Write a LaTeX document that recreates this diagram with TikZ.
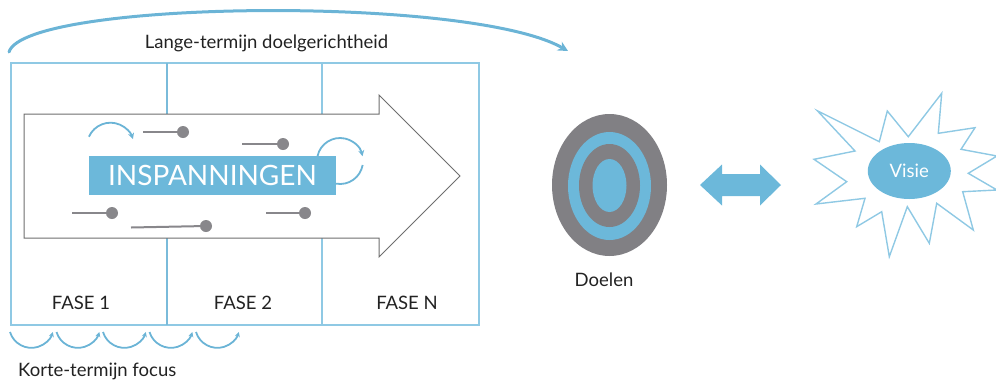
\documentclass[tikz,border=0pt]{standalone}
\usepackage{fontspec}
\setmainfont{Lato}
\usetikzlibrary{arrows.meta,shapes.geometric}
\definecolor{fillblue}{HTML}{6CB8DA}
\definecolor{lineblue}{HTML}{8FC9E4}
\definecolor{darkblue}{HTML}{6BB4D6}
\definecolor{targetgray}{HTML}{818084}
\definecolor{lolgray}{HTML}{88878B}
\definecolor{arrowgray}{HTML}{6E6E6E}
\definecolor{textcol}{HTML}{222222}
\begin{document}
\begin{tikzpicture}[x=1pt,y=-1pt,
  phasebox/.style={draw=lineblue,line width=1.3pt},
  bigarrow/.style={draw=arrowgray,line width=1pt,fill=white,line join=miter},
  loopline/.style={draw=darkblue,line width=1.8pt,-{Stealth[length=6pt,width=6pt]}},
  lolline/.style={draw=lolgray,line width=2pt},
  loldot/.style={circle,fill=lolgray,inner sep=0pt,minimum size=12pt},
  label/.style={text=textcol,font=\fontsize{18.5}{22}\selectfont,inner sep=0pt},
  starline/.style={draw=lineblue,line width=1.4pt,fill=white,line join=miter}
]
\useasboundingbox (0,0) rectangle (996,381);
% top long-term arc
\coordinate (arcstart) at (9,52);
\coordinate (arcend) at (568,51);
\draw[darkblue,line width=3pt,line cap=round,-{Stealth[length=10pt,width=10pt]}]
  (arcstart) .. controls (25,0) and (470,-5) .. (arcend);
\node[label] (lange) at (266.5,43) {Lange-termijn doelgerichtheid};
% phase box
\draw[phasebox] (11,63) rectangle (479,325);
\draw[phasebox,line width=1.8pt,draw=darkblue!90] (167,63) -- (167,325);
\draw[phasebox] (322,63) -- (322,325);
% big arrow
\draw[bigarrow] (24,114) -- (379,114) -- (379,95) -- (460,176) -- (379,257) -- (379,238) -- (24,238) -- cycle;
% INSPANNINGEN
\node[fill=fillblue,minimum width=247pt,minimum height=39pt,inner sep=0pt,
      text=white,font=\fontsize{28}{30}\selectfont] (insp) at (212.5,175.5) {INSPANNINGEN};
% loops
\draw[loopline] (110.5,146.3) ++(-156:23.6) arc[start angle=-156,end angle=-18,radius=23.6];
\draw[loopline] (340,161) ++(-167.5:23) arc[start angle=-167.5,end angle=-12,radius=23];
\draw[darkblue,line width=1.8pt] (340,161) ++(10:23) arc[start angle=10,end angle=100,radius=23];
% lollipops
\node[loldot] (d1) at (183,132) {};
\coordinate (s1) at (143,132);
\draw[lolline] (s1) -- (d1);
\node[loldot] (d2) at (283,144) {};
\coordinate (s2) at (242,144);
\draw[lolline] (s2) -- (d2);
\node[loldot] (d3) at (112,213) {};
\coordinate (s3) at (72,213);
\draw[lolline] (s3) -- (d3);
\node[loldot] (d4) at (206,226) {};
\coordinate (s4) at (131,227.5);
\draw[lolline] (s4) -- (d4);
\node[loldot] (d5) at (305,213) {};
\coordinate (s5) at (266,213);
\draw[lolline] (s5) -- (d5);
% phase labels
\node[label] (f1) at (81,303) {FASE 1};
\node[label] (f2) at (243,303) {FASE 2};
\node[label] (fn) at (407,303) {FASE N};
% short-term arcs
\foreach \s in {10,56.5,103,149.5,196}{
  \draw[loopline,-{Stealth[length=5pt,width=5pt]}] (\s,332) arc[start angle=163,end angle=17,radius=22.4];
}
\node[label,anchor=west] (korte) at (18,371) {Korte-termijn focus};
% target
\node[ellipse,fill=targetgray,minimum width=115pt,minimum height=142pt,inner sep=0pt] (target) at (609.5,185) {};
\node[ellipse,fill=fillblue,minimum width=83pt,minimum height=108pt,inner sep=0pt] (ring1) at (609.5,186) {};
\node[ellipse,fill=targetgray,minimum width=61pt,minimum height=83pt,inner sep=0pt] (ring2) at (609.5,185.5) {};
\node[ellipse,fill=fillblue,minimum width=34pt,minimum height=53pt,inner sep=0pt] (bull) at (609.5,185.5) {};
\node[label] (doelen) at (604,280) {Doelen};
% double arrow
\fill[fillblue] (700,185) -- (722,164.5) -- (722,174) -- (760,174) -- (760,164.5) -- (781,185)
  -- (760,205.5) -- (760,196) -- (722,196) -- (722,205.5) -- cycle;
% star
\draw[starline] (817.3,110.7) -- (879.3,141.7) -- (887.3,111) -- (908.3,136.7) -- (941.7,93.3)
  -- (938.3,133.3) -- (975,127.7) -- (961,149.3) -- (997,156) -- (968.3,173.3) -- (997,190)
  -- (962.7,191.7) -- (973.3,230) -- (936.7,203.3) -- (929.3,243.3) -- (907.3,206.7)
  -- (889.3,256.7) -- (881.7,211.7) -- (856.7,226.7) -- (865,198.3) -- (816,204)
  -- (846.7,181.7) -- (814,159.3) -- (855,151) -- cycle;
\node[ellipse,fill=fillblue,minimum width=83pt,minimum height=56pt,inner sep=0pt,
      text=white,font=\fontsize{18.5}{20}\selectfont] (visie) at (909.3,171) {Visie};
\end{tikzpicture}
\end{document}
